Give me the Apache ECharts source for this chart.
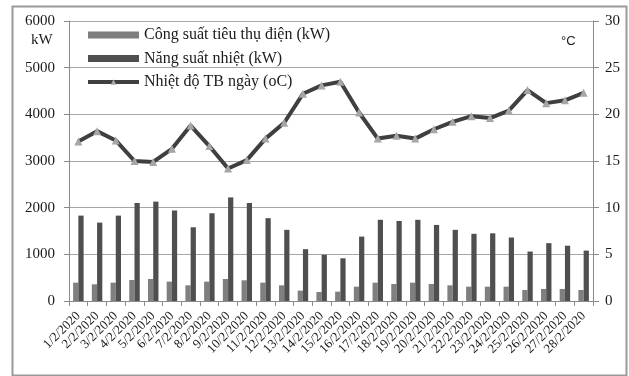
<!DOCTYPE html>
<html>
<head>
<meta charset="utf-8">
<script src="https://cdn.jsdelivr.net/npm/echarts@6/dist/echarts.min.js"></script>
<style>
  html, body { margin: 0; padding: 0; background: #fff; }
  #chart { width: 629px; height: 376px; }
</style>
</head>
<body>
<div id="chart"></div>
<script>
// Daily dates, February 2020
const days = [
  '1/2/2020','2/2/2020','3/2/2020','4/2/2020','5/2/2020','6/2/2020','7/2/2020',
  '8/2/2020','9/2/2020','10/2/2020','11/2/2020','12/2/2020','13/2/2020','14/2/2020',
  '15/2/2020','16/2/2020','17/2/2020','18/2/2020','19/2/2020','20/2/2020','21/2/2020',
  '22/2/2020','23/2/2020','24/2/2020','25/2/2020','26/2/2020','27/2/2020','28/2/2020'
];

// Electric power consumption (kW)
const powerUse = [393, 358, 393, 450, 472, 415, 336, 415, 472, 443, 393, 336, 222, 193,
                  200, 307, 393, 365, 393, 365, 336, 307, 307, 307, 236, 258, 258, 236];

// Heat output (kW)
const heatOutput = [1830, 1680, 1830, 2100, 2130, 1940, 1580, 1880, 2220, 2100, 1775, 1525, 1110, 990,
                    915, 1380, 1740, 1715, 1740, 1630, 1525, 1440, 1450, 1360, 1060, 1240, 1185, 1080];

// Daily mean temperature (°C)
const meanTemp = [17.1, 18.2, 17.2, 15.0, 14.9, 16.3, 18.8, 16.6, 14.2, 15.1, 17.4, 19.1, 22.2, 23.1,
                  23.5, 20.2, 17.4, 17.7, 17.4, 18.4, 19.2, 19.8, 19.6, 20.4, 22.6, 21.2, 21.5, 22.3];

// Axis ticks
const kwTicks = { min: 0, max: 6000, step: 1000 };
const tempTicks = { min: 0, max: 30, step: 5 };

const seriesNames = ['Công suất tiêu thụ điện (kW)', 'Năng suất nhiệt (kW)', 'Nhiệt độ TB ngày (oC)'];

const serif = '"Liberation Serif", "DejaVu Serif", serif';
const sans = '"Liberation Sans", "DejaVu Sans", sans-serif';
const axisGray = '#8a8a8a';
const lineColor = '#3f3f3f';
const markerColor = '#a6a6a6';

const chart = echarts.init(document.getElementById('chart'), null, { renderer: 'canvas' });

chart.setOption({
  animation: false,
  backgroundColor: '#fff',
  textStyle: { fontFamily: serif, color: '#1a1a1a' },
  grid: { left: 69, right: 36, top: 21, bottom: 75, containLabel: false },
  legend: {
    orient: 'vertical',
    left: 86,
    top: 26,
    padding: 0,
    itemWidth: 51,
    itemHeight: 7,
    itemGap: 5.5,
    textStyle: { fontFamily: serif, fontSize: 16, color: '#1a1a1a', lineHeight: 18 },
    data: [
      { name: seriesNames[0], icon: 'rect' },
      { name: seriesNames[1], icon: 'rect' },
      { name: seriesNames[2], lineStyle: { color: lineColor, width: 4 }, itemStyle: { color: markerColor } }
    ]
  },
  xAxis: {
    type: 'category',
    data: days,
    boundaryGap: true,
    axisLine: { lineStyle: { color: axisGray, width: 1 } },
    axisTick: { show: true, length: 5, interval: 0, lineStyle: { color: axisGray } },
    axisLabel: {
      interval: 0,
      rotate: 45,
      fontSize: 13,
      margin: 13,
      fontFamily: serif,
      color: '#1a1a1a'
    },
    splitLine: { show: false }
  },
  yAxis: [
    {
      type: 'value',
      min: kwTicks.min,
      max: kwTicks.max,
      interval: kwTicks.step,
      position: 'left',
      axisLine: { show: true, lineStyle: { color: axisGray } },
      axisTick: { show: true, length: 5, lineStyle: { color: axisGray } },
      axisLabel: {
        fontSize: 15, margin: 14, fontFamily: serif, color: '#1a1a1a',
        formatter: (v) => String(v)
      },
      splitLine: { show: true, lineStyle: { color: '#a6a6a6', width: 1 } }
    },
    {
      type: 'value',
      min: tempTicks.min,
      max: tempTicks.max,
      interval: tempTicks.step,
      position: 'right',
      axisLine: { show: true, lineStyle: { color: axisGray } },
      axisTick: { show: true, length: 6, lineStyle: { color: axisGray } },
      axisLabel: {
        fontSize: 15, margin: 12, fontFamily: serif, color: '#1a1a1a',
        formatter: (v) => String(v)
      },
      splitLine: { show: false }
    }
  ],
  series: [
    {
      name: seriesNames[0],
      type: 'bar',
      yAxisIndex: 0,
      data: powerUse,
      barWidth: '28%',
      barGap: '0%',
      itemStyle: { color: '#7f7f7f' }
    },
    {
      name: seriesNames[1],
      type: 'bar',
      yAxisIndex: 0,
      data: heatOutput,
      barWidth: '28%',
      barGap: '0%',
      itemStyle: { color: '#4f4f4f' }
    },
    {
      name: seriesNames[2],
      type: 'line',
      yAxisIndex: 1,
      data: meanTemp,
      symbol: 'triangle',
      symbolSize: 8,
      lineStyle: { color: lineColor, width: 4 },
      itemStyle: { color: markerColor, borderWidth: 0 },
      z: 5
    }
  ],
  graphic: [
    {
      type: 'rect',
      left: 10,
      top: 4,
      shape: { width: 614, height: 369 },
      style: { fill: 'none', stroke: '#9a9a9a', lineWidth: 2 },
      silent: true
    },
    {
      type: 'text',
      left: 31,
      top: 33,
      style: { text: 'kW', font: '15px ' + serif, fill: '#1a1a1a' }
    },
    {
      type: 'text',
      left: 561,
      top: 35,
      style: { text: '°C', font: '13px ' + sans, fill: '#1a1a1a' }
    }
  ]
});
</script>
</body>
</html>
